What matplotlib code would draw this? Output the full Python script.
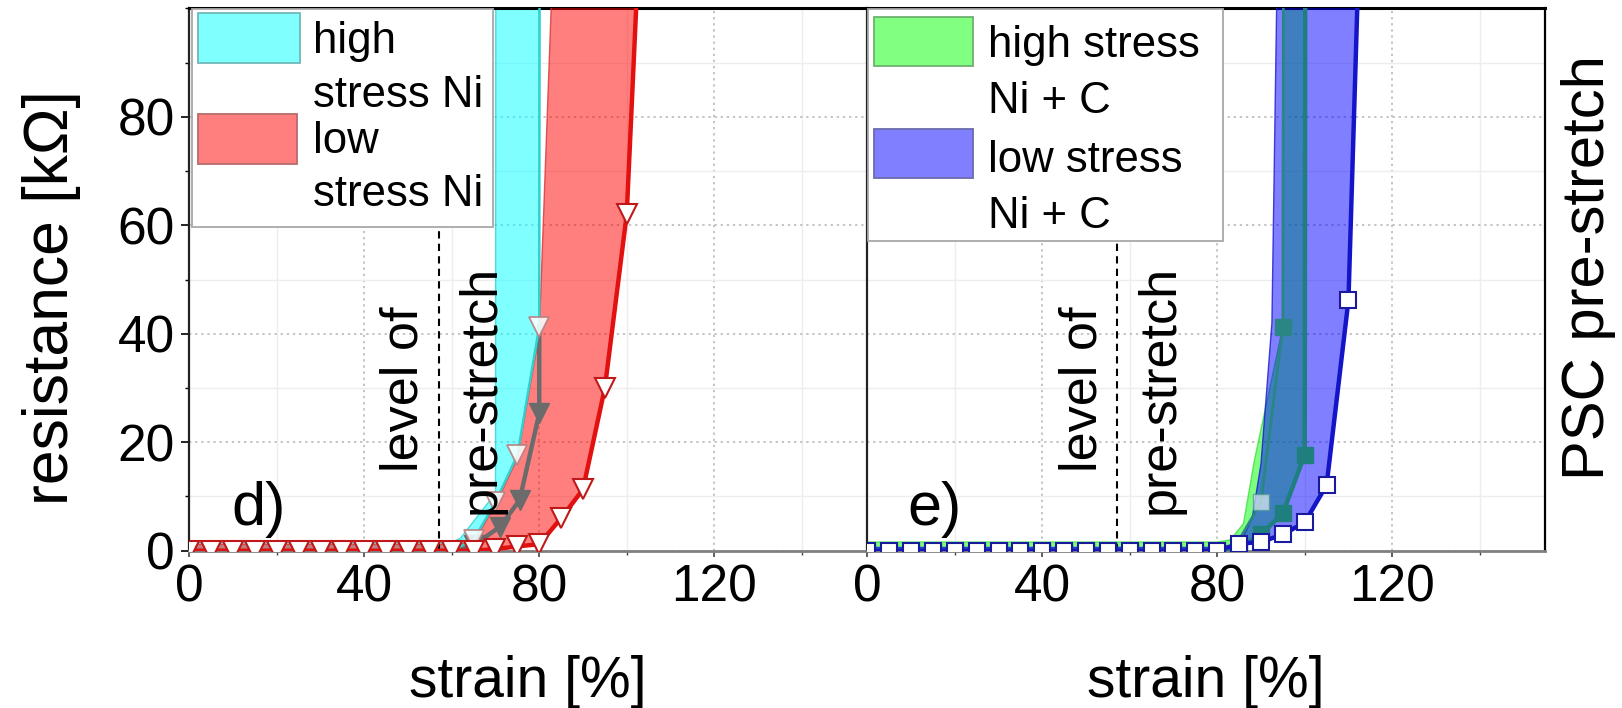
import numpy as np
import matplotlib
matplotlib.use("Agg")
import matplotlib.pyplot as plt
from matplotlib.patches import Rectangle
from matplotlib.ticker import MultipleLocator, AutoMinorLocator

plt.rcParams['font.family'] = ['Liberation Sans', 'DejaVu Sans']

# ---------------- data: panel d) (Ni) ----------------
bottom_x_d = [0, 5, 10, 15, 20, 25, 30, 35, 40, 45, 50, 55, 60]
cyan_hi_x = bottom_x_d + [62, 70, 70.2]
cyan_hi_y = [1.6] * 13 + [2.3, 10.6, 300]
cyan_lo_x = bottom_x_d + [65, 70, 75, 80, 80.3]
cyan_lo_y = [0.0] * 13 + [2.0, 9.0, 17.6, 41.3, 300]
cyan_mean_x = [60, 65, 71, 75.5, 80, 80]
cyan_mean_y = [0.0, 1.0, 4.4, 9.3, 25.3, 41.3]
red_hi_x = bottom_x_d + [65, 70, 75, 80, 85]
red_hi_y = [1.2] * 13 + [1.5, 8.5, 17.0, 40.0, 150]
red_lo_x = [0, 5, 10, 15, 20, 25, 30, 35, 40, 45, 50, 55, 60, 65,
            70, 75, 80, 85, 90, 95, 100, 105]
red_lo_y = [0.0] * 14 + [0.3, 0.8, 1.2, 6.0, 11.3, 30.0, 62.0, 150]

# ---------------- data: panel e) (Ni + C) ----------------
bottom_x_e = [0, 5, 10, 15, 20, 25, 30, 35, 40, 45, 50, 55, 60, 65, 70, 75, 80]
green_hi_x = [0, 5, 10, 15, 20, 25, 30, 35, 40, 45, 50, 55, 60, 65, 70, 75, 80,
              83, 86, 88.5, 95, 95.5]
green_hi_y = [1.6] * 17 + [2.0, 5.0, 16.7, 41.3, 300]
green_lo_x = bottom_x_e + [85, 90, 95, 100, 100.4]
green_lo_y = [0.0] * 17 + [0.5, 3.0, 6.9, 17.7, 300]
green_up_x = [85, 90, 95, 95.5]
green_up_y = [2.0, 8.9, 41.3, 300]
blue_hi_x = bottom_x_e + [85, 88, 90, 92.5, 94.5]
blue_hi_y = [0.6] * 17 + [1.0, 6.0, 16.0, 42.0, 150]
blue_lo_x = bottom_x_e + [85, 90, 95, 100, 105, 110, 115]
blue_lo_y = [0.0] * 17 + [1.3, 1.6, 3.0, 5.2, 12.1, 46.2, 180]

prestretch = 57.0
legend_d = ["high", "stress Ni", "low", "stress Ni"]
legend_e = ["high stress", "Ni + C", "low stress", "Ni + C"]
xticks = [0, 40, 80, 120]
yticks = [0, 20, 40, 60, 80]

# ---------------- figure ----------------
W, H = 1622, 708
fig = plt.figure(figsize=(W / 100, H / 100), dpi=100)


def frac(x0, x1, ytop, ybot):
    return [x0 / W, 1 - ybot / H, (x1 - x0) / W, (ybot - ytop) / H]


ax1 = fig.add_axes(frac(189.3, 867.3, 8.3, 550.7))
ax2 = fig.add_axes(frac(867.3, 1545.3, 8.3, 550.7))


def band(ax, hx, hy, lx, ly, fc, ec, z):
    xs = np.concatenate([np.asarray(hx, float), np.asarray(lx, float)[::-1]])
    ys = np.concatenate([np.asarray(hy, float), np.asarray(ly, float)[::-1]])
    ax.fill(xs, ys, facecolor=fc, edgecolor=ec, lw=1.0, zorder=z)


def style(ax, left_labels):
    ax.set_xlim(0, 155)
    ax.set_ylim(0, 100)
    ax.xaxis.set_major_locator(MultipleLocator(40))
    ax.xaxis.set_minor_locator(AutoMinorLocator(2))
    ax.yaxis.set_major_locator(MultipleLocator(20))
    ax.yaxis.set_minor_locator(AutoMinorLocator(2))
    ax.set_xticks(xticks)
    ax.grid(which='major', linestyle=(0, (1.5, 2.5)), color='#B4B4B4', lw=1.1, zorder=0)
    ax.grid(which='minor', linestyle='-', color='#EDEDED', lw=1.0, zorder=0)
    ax.set_axisbelow(True)
    ax.tick_params(axis='x', which='major', direction='out', length=4.5, width=1.2,
                   labelsize=37, pad=5, color='#444444')
    ax.tick_params(axis='x', which='minor', direction='out', length=3, width=1.0,
                   color='#444444')
    if left_labels:
        ax.set_yticks(yticks)
        ax.tick_params(axis='y', which='major', direction='out', length=5.5, width=1.2,
                       labelsize=37, pad=5)
        ax.tick_params(axis='y', which='minor', direction='out', length=3, width=1.0)
    else:
        ax.tick_params(axis='y', which='both', left=False, labelleft=False)
    ax.spines['bottom'].set_color('#808080')
    ax.spines['bottom'].set_linewidth(2.0)
    ax.spines['top'].set_color('black')
    ax.spines['top'].set_linewidth(2.2)
    ax.spines['left'].set_color('#222222')
    ax.spines['left'].set_linewidth(1.6)


style(ax1, True)
style(ax2, False)
ax1.spines['right'].set_visible(False)
ax2.spines['right'].set_color('black')
ax2.spines['right'].set_linewidth(1.6)

# ---------------- panel d ----------------
band(ax1, cyan_hi_x, cyan_hi_y, cyan_lo_x, cyan_lo_y, (0, 1, 1, 0.5), (0.1, 0.8, 0.8, 0.7), 2)
band(ax1, red_hi_x, red_hi_y, red_lo_x, red_lo_y, (1, 0, 0, 0.5), (0.85, 0.2, 0.2, 0.8), 3)
ax1.plot(cyan_lo_x, cyan_lo_y, color='#33D0D0', lw=1.8, marker='v', ms=15,
         mfc=(1, 1, 1, 0.85), mec=(0.72, 0.5, 0.5, 0.9), mew=1.3, zorder=5.5)
ax1.plot(cyan_mean_x, cyan_mean_y, color='#6B6B6B', lw=3.2, marker='v', ms=14,
         mfc='#6B6B6B', mec='#6B6B6B', markevery=[1, 2, 3, 4], zorder=5)
ax1.plot(red_lo_x, red_lo_y, color='#E31010', lw=3.2, marker='v', ms=15,
         mfc='white', mec='#C01818', mew=1.5, zorder=6)
ax1.axvline(prestretch, color='black', ls=(0, (3.5, 2.5)), lw=1.5, zorder=3)
ax1.text(57.9, 29.8, "level of\npre-stretch", rotation=90, ha='center', va='center',
         multialignment='center', linespacing=1.75, fontsize=37.5, zorder=7)
ax1.text(9.7, 4.7, "d)", fontsize=44, ha='left', va='baseline', zorder=7)

# ---------------- panel e ----------------
band(ax2, green_hi_x, green_hi_y, green_lo_x, green_lo_y, (0, 1, 0, 0.5), (0.2, 0.85, 0.2, 0.7), 2)
band(ax2, blue_hi_x, blue_hi_y, blue_lo_x, blue_lo_y, (0, 0, 1, 0.5), (0.1, 0.1, 0.8, 0.8), 4)
ax2.plot(green_up_x, green_up_y, color='#2A8585', lw=2.0, marker='s', ms=11,
         mfc='#2A8585', mec='#2A8585', markevery=[2], zorder=5)
ax2.plot(green_up_x, green_up_y, ls='none', marker='s', ms=11,
         mfc=(1, 1, 1, 0.6), mec=(0.3, 0.6, 0.6, 0.8), markevery=[1], zorder=5)
ax2.plot(green_lo_x, green_lo_y, color='#1F7F7F', lw=3.2, marker='s', ms=11,
         mfc='#1F7F7F', mec='#1F7F7F', zorder=5)
ax2.plot(blue_lo_x, blue_lo_y, color='#1414C8', lw=3.2, marker='s', ms=12,
         mfc='white', mec='#1A1AA0', mew=1.5, zorder=6)
ax2.axvline(prestretch, color='black', ls=(0, (3.5, 2.5)), lw=1.5, zorder=3)
ax2.text(58.1, 29.8, "level of\npre-stretch", rotation=90, ha='center', va='center',
         multialignment='center', linespacing=1.75, fontsize=37.5, zorder=7)
ax2.text(9.1, 4.7, "e)", fontsize=44, ha='left', va='baseline', zorder=7)


# ---------------- legends (drawn boxes) ----------------
def draw_legend(ax, box, patches, text_x, text_y, labels):
    ax.add_patch(Rectangle((box[0], box[1]), box[2], box[3], transform=ax.transAxes,
                           facecolor='white', edgecolor='#A8A8A8', lw=1.3,
                           zorder=10, clip_on=False))
    for (x0, y0, w, h, fc, ec) in patches:
        ax.add_patch(Rectangle((x0, y0), w, h, transform=ax.transAxes, facecolor=fc,
                               edgecolor=ec, lw=1.3, zorder=11, clip_on=False))
    for ty, s in zip(text_y, labels):
        ax.text(text_x, ty, s, transform=ax.transAxes, fontsize=31.5, ha='left',
                va='baseline', zorder=12)


draw_legend(ax1, (0.0035, 0.5973, 0.4443, 0.4009),
            [(0.0128, 0.8991, 0.1505, 0.0922, '#80FFFF', '#6FB8B8'),
             (0.0128, 0.7128, 0.1461, 0.0922, '#FF7F7F', '#B86A6A')],
            0.1829, [0.9176, 0.8180, 0.7332, 0.6355], legend_d)
draw_legend(ax2, (0.0015, 0.5715, 0.5235, 0.4267),
            [(0.0099, 0.8937, 0.1460, 0.0903, '#80FF80', '#6FB06F'),
             (0.0099, 0.6871, 0.1460, 0.0904, '#7F7FFF', '#6A6AB0')],
            0.178, [0.9093, 0.8070, 0.6988, 0.5956], legend_e)

# ---------------- axis labels ----------------
for ax in (ax1, ax2):
    ax.set_xlabel("strain [%]", fontsize=41)
    ax.xaxis.label.set_va('baseline')
    ax.xaxis.set_label_coords(0.5, (550.7 - 697) / 542.4)

ax1.set_ylabel("resistance [kΩ]", fontsize=45)
ax1.yaxis.label.set_va('center')
ax1.yaxis.set_label_coords((52 - 189.3) / 678, (550.7 - 298) / 542.4)

ax2.yaxis.set_label_position('right')
ax2.set_ylabel("PSC pre-stretch", fontsize=43)
ax2.yaxis.label.set_va('center')
ax2.yaxis.set_label_coords((1589 - 867.3) / 678, (550.7 - 268) / 542.4)

fig.savefig("out.png", dpi=100)
